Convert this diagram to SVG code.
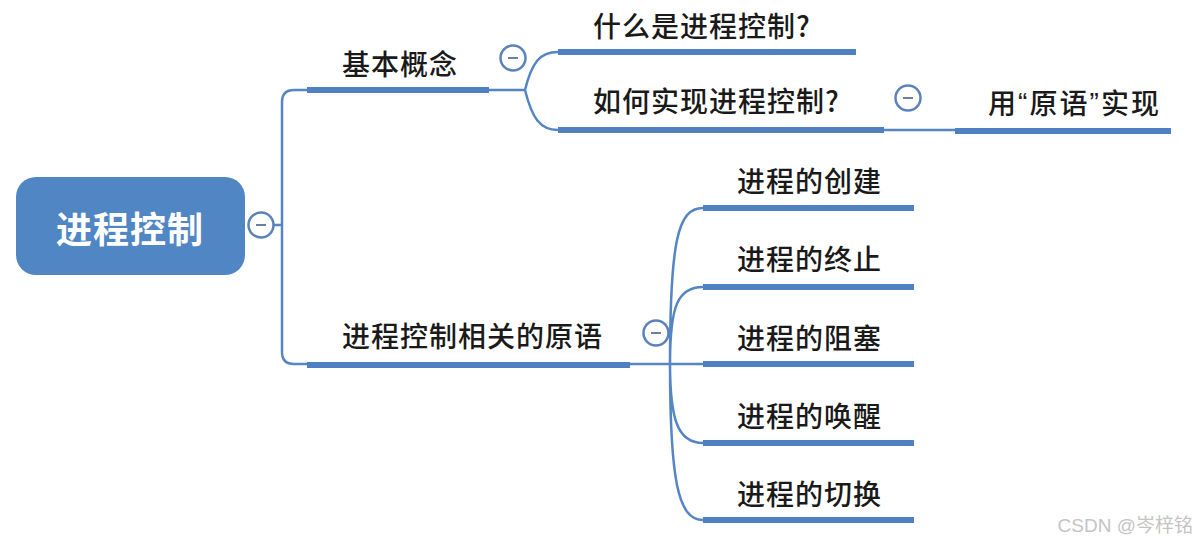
<svg xmlns="http://www.w3.org/2000/svg" width="1198" height="547" viewBox="0 0 1198 547">
<style>
.t{font-family:"Noto Sans CJK SC","Noto Sans",sans-serif;font-size:28px;font-weight:500;letter-spacing:1px;fill:#1a1a1a;dominant-baseline:central}
.bar{stroke:#4f81c2;stroke-width:6;fill:none}
.thin{stroke:#5585c4;stroke-width:2.5;fill:none}
.bc{fill:#fff;stroke:#5a82bb;stroke-width:2.5}
.bl{stroke:#6d7fa0;stroke-width:2}
.q{font-family:"Liberation Sans",sans-serif}
</style>
<defs>
<g id="minus"><circle class="bc" r="12.5"/><line class="bl" x1="-5" y1="0" x2="5" y2="0"/></g>
</defs>
<rect width="1198" height="547" fill="#fff"/>
<g id="connectors">
<path class="thin" d="M274,225 H282 M307,90 H294 Q282,90 282,102 V352 Q282,364 294,364 H307"/>
<path class="thin" d="M489,90 H525 M525,90 C532,62 540,52 558,52 M525,90 C532,118 540,130 558,130"/>
<path class="thin" d="M884,130 H955"/>
<path class="thin" d="M630,364 H703 M670,364 C670,240 678,208 703,208 M670,364 C670,305 678,287 703,287 M670,364 C670,420 678,443 703,443 M670,364 C670,480 678,520 703,520"/>
</g>
<g id="root">
<rect x="16" y="177" width="229" height="98" rx="20" fill="#5186c5"/>
<text x="130" y="227" class="t" text-anchor="middle" style="fill:#fff;font-size:36px;letter-spacing:1px;font-weight:bold">进程控制</text>
<use href="#minus" x="261" y="225"/>
</g>
<g id="n-basic">
<line class="bar" x1="307" y1="90" x2="489" y2="90"/>
<text x="342" y="63" class="t">基本概念</text>
<use href="#minus" x="513" y="58"/>
</g>
<g id="n-what">
<line class="bar" x1="558" y1="52" x2="856" y2="52"/>
<text x="593" y="25" class="t">什么是进程控制?</text>
</g>
<g id="n-how">
<line class="bar" x1="558" y1="130" x2="884" y2="130"/>
<text x="593" y="100" class="t">如何实现进程控制?</text>
<use href="#minus" x="908" y="98"/>
</g>
<g id="n-prim-impl">
<line class="bar" x1="955" y1="131" x2="1171" y2="131"/>
<text x="988" y="102" class="t" textLength="172" lengthAdjust="spacing">用<tspan class="q">“</tspan>原语<tspan class="q">”</tspan>实现</text>
</g>
<g id="n-prims">
<line class="bar" x1="307" y1="365" x2="630" y2="365"/>
<text x="342" y="335" class="t">进程控制相关的原语</text>
<use href="#minus" x="656" y="333"/>
</g>
<g id="n-create">
<line class="bar" x1="703" y1="208" x2="914" y2="208"/>
<text x="737" y="180" class="t">进程的创建</text>
</g>
<g id="n-term">
<line class="bar" x1="703" y1="287" x2="914" y2="287"/>
<text x="737" y="258" class="t">进程的终止</text>
</g>
<g id="n-block">
<line class="bar" x1="703" y1="364" x2="914" y2="364"/>
<text x="737" y="337" class="t">进程的阻塞</text>
</g>
<g id="n-wake">
<line class="bar" x1="703" y1="443" x2="914" y2="443"/>
<text x="737" y="415" class="t">进程的唤醒</text>
</g>
<g id="n-switch">
<line class="bar" x1="703" y1="520" x2="914" y2="520"/>
<text x="737" y="493" class="t">进程的切换</text>
</g>
<text x="1193" y="525" text-anchor="end" style="font-family:'Liberation Sans','Noto Sans CJK SC',sans-serif;font-size:19px;fill:#c4c4c4;dominant-baseline:central">CSDN @岑梓铭</text>
</svg>
